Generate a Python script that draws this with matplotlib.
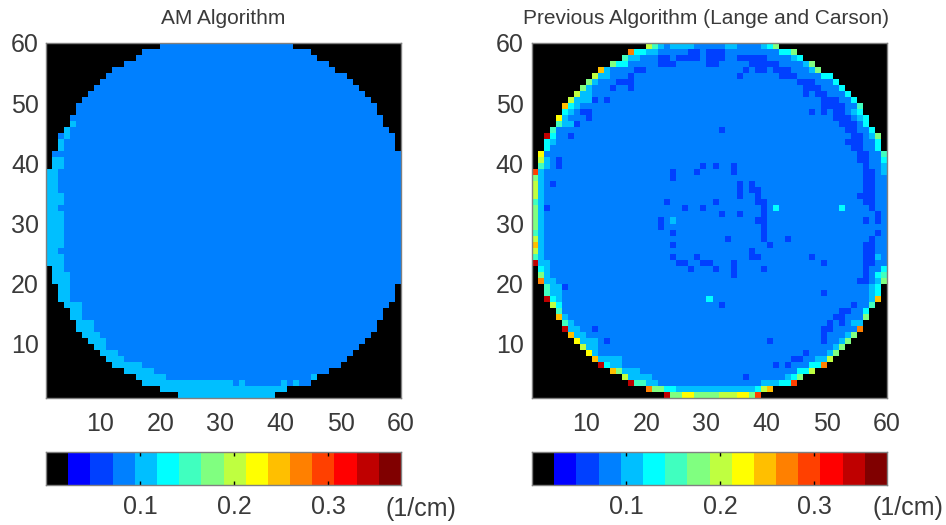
import numpy as np
from matplotlib import pyplot as plt
from matplotlib.colors import ListedColormap

plt.rcParams['font.family'] = ['Liberation Sans', 'DejaVu Sans']

W, H = 946, 525
TEXT = "#3a3a3a"
EDGE = "#808080"

# colour levels of the scale, black is outside the reconstruction
palette = ["#000000", "#0000ff", "#0040ff", "#0080ff", "#00bfff", "#00ffff", "#40ffbf", "#80ff80",
           "#bfff40", "#ffff00", "#ffbf00", "#ff8000", "#ff4000", "#ff0000", "#bf0000", "#800000"]
scale_max = 0.377
scale_ticks = [0.1, 0.2, 0.3]
image_ticks = [10, 20, 30, 40, 50, 60]
titles = ["AM Algorithm", "Previous Algorithm (Lange and Carson)"]

# first and one past last cell inside the circle, row 0 is the top row
row_start = [19, 16, 15, 13, 11, 10, 9, 8, 7, 6, 5, 5, 4, 4, 3, 2, 2, 2, 1, 1, 1] + [0] * 16 + \
            [1, 1, 1, 2, 2, 2, 3, 4, 4, 5, 5, 6, 7, 8, 9, 10, 11, 13, 15, 16, 19, 22]
row_stop = [41, 44, 45, 47, 48, 50, 51, 52, 53, 54, 55, 55, 56, 56, 57, 58, 58, 58] + [59] * 22 + \
           [58, 58, 58, 57, 56, 56, 55, 55, 54, 53, 52, 51, 50, 49, 47, 45, 44, 40, 38]
body_level = 3

# AM image: light rim, (row, first, last)
am_rim = [(13, 4, 4), (14, 3, 3), (15, 3, 3), (16, 2, 2), (17, 2, 2), (19, 1, 2), (20, 1, 2),
          (21, 0, 1), (22, 0, 1), (23, 0, 1), (24, 0, 1), (25, 0, 2), (26, 0, 2), (27, 0, 1),
          (28, 0, 2), (29, 0, 2), (30, 0, 2), (31, 0, 2), (32, 0, 2), (33, 0, 2), (34, 0, 1),
          (35, 0, 2), (36, 0, 2), (37, 1, 2), (38, 1, 3), (39, 1, 3), (40, 2, 3), (41, 2, 3),
          (42, 2, 3), (43, 3, 5), (44, 4, 5), (45, 4, 5), (46, 5, 7), (47, 5, 7), (48, 6, 8),
          (49, 7, 9), (50, 8, 9), (51, 9, 11), (52, 10, 12), (53, 11, 15), (54, 13, 17),
          (55, 15, 19), (56, 16, 30), (56, 32, 32), (56, 39, 39), (56, 41, 41), (55, 44, 44),
          (57, 19, 39), (58, 22, 37)]
am_rim_level = 4

# previous algorithm: low cells by row
prev_low = {1: [26, 27, 29, 30, 31], 2: [21, 22, 24, 25, 26, 27, 29, 30, 31, 34, 35, 36, 37, 38],
            3: [21, 22, 23, 29, 30, 36, 37, 38, 39, 40], 4: [17, 18, 35, 37, 38, 40, 41, 42],
            5: [16, 34, 41, 42, 43], 6: [14, 15, 16, 44, 45, 46], 7: [13, 16, 45, 46, 47],
            8: [45, 47, 48], 9: [10, 12, 48, 49, 50], 10: [48, 49, 50, 51], 11: [8, 9, 46, 48, 50, 51],
            12: [9, 50, 51, 52], 13: [7, 51, 52, 53], 14: [31, 52, 53], 15: [6, 53, 54], 16: [52, 53, 54],
            17: [53, 54], 18: [54, 55], 19: [4, 54, 55], 20: [4, 28, 30, 33, 55], 21: [23, 27, 33, 55, 56],
            22: [23, 55, 56], 23: [3, 34, 36, 55, 56], 24: [34, 36, 37, 55, 56], 25: [34, 37, 54, 55, 56],
            26: [22, 30, 37, 38, 55, 56], 27: [2, 25, 28, 38, 56], 28: [31, 34, 38, 57],
            29: [21, 37, 38, 55, 57], 30: [21, 38], 31: [23, 38, 57], 32: [32, 38, 42, 56],
            33: [23, 39, 55, 56], 34: [36, 55, 56], 35: [23, 27, 36, 37, 46, 55, 56],
            36: [24, 25, 28, 29, 33, 48, 55, 56], 37: [26, 30, 33, 38, 55], 38: [33, 55], 39: [54, 55],
            40: [5], 41: [48], 43: [31, 53], 44: [51, 52], 45: [50, 51], 46: [49, 51], 47: [10, 48, 49],
            48: [48], 49: [12, 39, 48], 51: [45], 52: [43, 44], 53: [40, 42], 55: [35]}
prev_low_level = 2

# previous algorithm: rim and stray cells, (row, first, last, level)
prev_rim = [(0, 19, 19, 8), (0, 20, 20, 6), (0, 21, 21, 4), (0, 23, 26, 4), (0, 32, 33, 4), (0, 38, 38, 4),
            (0, 39, 39, 5), (0, 40, 40, 7), (1, 16, 16, 11), (1, 17, 18, 5), (1, 19, 20, 4), (1, 41, 42, 5),
            (1, 43, 43, 7), (2, 15, 15, 6), (2, 16, 17, 4), (2, 43, 43, 4), (2, 44, 44, 5), (3, 13, 13, 7),
            (3, 14, 15, 5), (3, 45, 45, 4), (3, 46, 46, 7), (4, 11, 11, 10), (4, 12, 12, 4), (4, 46, 46, 4),
            (4, 47, 47, 7), (5, 10, 10, 8), (5, 11, 12, 4), (5, 48, 49, 5), (6, 9, 9, 7), (6, 10, 10, 4),
            (6, 50, 50, 5), (7, 8, 8, 7), (7, 9, 9, 4), (7, 51, 51, 5), (8, 7, 7, 8), (8, 8, 9, 4),
            (8, 52, 52, 5), (9, 6, 6, 8), (9, 7, 9, 4), (9, 53, 53, 5), (10, 5, 5, 10), (10, 6, 6, 5),
            (10, 7, 7, 4), (10, 54, 54, 6), (11, 5, 5, 5), (11, 6, 6, 4), (11, 53, 53, 4), (11, 54, 54, 5),
            (12, 4, 4, 9), (12, 5, 5, 4), (12, 54, 54, 4), (12, 55, 55, 5), (13, 4, 4, 6), (13, 5, 6, 4),
            (13, 55, 55, 5), (14, 3, 3, 6), (14, 56, 56, 5), (15, 2, 2, 14), (15, 3, 3, 5), (15, 56, 56, 4),
            (15, 57, 57, 7), (16, 2, 2, 5), (16, 3, 3, 4), (16, 57, 57, 5), (17, 2, 2, 5), (17, 57, 57, 5),
            (18, 1, 1, 9), (18, 58, 58, 6), (19, 1, 1, 8), (19, 2, 2, 4), (19, 58, 58, 5), (20, 1, 1, 6),
            (20, 2, 2, 4), (20, 58, 58, 4), (21, 58, 58, 4), (35, 57, 57, 4), (36, 1, 2, 4), (37, 1, 1, 5),
            (37, 2, 2, 4), (37, 58, 58, 5), (38, 1, 1, 7), (38, 2, 2, 4), (38, 57, 57, 5), (38, 58, 58, 6),
            (39, 1, 1, 11), (39, 2, 3, 4), (39, 57, 57, 4), (39, 58, 58, 7), (40, 2, 2, 6), (40, 3, 4, 4),
            (40, 56, 56, 4), (40, 57, 57, 5), (41, 2, 2, 6), (41, 3, 4, 4), (41, 56, 56, 4), (41, 57, 57, 5),
            (42, 2, 2, 14), (42, 3, 3, 5), (42, 4, 4, 4), (42, 56, 56, 4), (42, 57, 57, 10), (43, 3, 3, 8),
            (43, 4, 4, 5), (43, 56, 56, 6), (44, 4, 4, 6), (44, 55, 55, 5), (45, 4, 4, 10), (45, 5, 5, 4),
            (45, 55, 55, 7), (46, 5, 5, 6), (46, 6, 6, 4), (46, 53, 54, 4), (47, 5, 5, 14), (47, 6, 7, 4),
            (47, 54, 54, 11), (48, 6, 6, 10), (48, 7, 8, 4), (48, 52, 52, 4), (48, 53, 53, 7), (49, 7, 7, 9),
            (49, 8, 10, 4), (49, 51, 51, 4), (49, 52, 52, 7), (50, 8, 8, 8), (50, 9, 10, 4), (50, 50, 50, 4),
            (50, 51, 51, 7), (51, 9, 9, 9), (51, 10, 10, 4), (51, 49, 49, 4), (51, 50, 50, 7), (52, 10, 10, 10),
            (52, 11, 14, 4), (52, 47, 48, 4), (52, 49, 49, 8), (53, 11, 11, 14), (53, 12, 12, 5), (53, 13, 14, 4),
            (53, 46, 47, 5), (53, 48, 48, 11), (54, 13, 13, 10), (54, 14, 14, 7), (54, 15, 17, 4), (54, 44, 45, 5),
            (54, 46, 46, 8), (55, 15, 15, 8), (55, 16, 19, 4), (55, 42, 42, 4), (55, 43, 43, 5), (55, 44, 44, 7),
            (56, 16, 16, 14), (56, 17, 18, 6), (56, 19, 20, 4), (56, 38, 40, 4), (56, 41, 42, 5), (56, 43, 43, 12),
            (57, 19, 19, 11), (57, 20, 21, 7), (57, 22, 23, 5), (57, 24, 36, 4), (57, 37, 37, 5), (57, 38, 38, 8),
            (57, 39, 39, 10), (58, 22, 22, 14), (58, 23, 24, 7), (58, 25, 26, 9), (58, 27, 30, 7), (58, 31, 33, 8),
            (58, 34, 35, 9), (58, 36, 36, 7), (58, 37, 37, 12), (29, 23, 23, 4), (27, 40, 40, 5), (27, 51, 51, 5),
            (42, 29, 29, 5)]
# left column from row 21 down, and the light column next to it
prev_col0 = [12, 7, 8, 8, 8, 6, 7, 7, 7, 7, 6, 8, 10, 8, 6, 14]
prev_col0_first_row = 21


def base_grid():
    grid = np.zeros((59, 59), dtype=int)
    for r in range(59):
        grid[r, row_start[r]:row_stop[r]] = body_level
    return grid


def am_grid():
    grid = base_grid()
    for r, a, b in am_rim:
        grid[r, a:b + 1] = am_rim_level
    return grid


def prev_grid():
    grid = base_grid()
    for r, cols in prev_low.items():
        grid[r, cols] = prev_low_level
    for r, a, b, lev in prev_rim:
        grid[r, a:b + 1] = lev
    for i, lev in enumerate(prev_col0):
        r = prev_col0_first_row + i
        grid[r, 0] = lev
        if i < len(prev_col0) - 1:
            grid[r, 1] = 4
    return grid


def axes_px(x0, y0, x1, y1):
    return [x0 / W, 1 - y1 / H, (x1 - x0) / W, (y1 - y0) / H]


cmap = ListedColormap(palette)
fig = plt.figure(figsize=(W / 100, H / 100), dpi=100)

panels = [(46, am_grid(), (385, 509), 40, 223.5), (532, prev_grid(), (872, 508), 525, 706)]
for i, (left, grid, unit_pos, label_right, title_x) in enumerate(panels):
    ax = fig.add_axes(axes_px(left, 43, left + 355, 398))
    edges = np.arange(1, 61)
    ax.pcolormesh(edges, edges[::-1], grid, cmap=cmap, vmin=-0.5, vmax=15.5)
    ax.set_xlim(1, 60)
    ax.set_ylim(1, 60)
    ax.set_xticks(image_ticks)
    ax.set_yticks(image_ticks)
    ax.tick_params(length=0, labelsize=18, labelcolor=TEXT)
    ax.tick_params(axis="y", pad=left - label_right - 1)
    ax.tick_params(axis="x", pad=10)
    for s in ax.spines.values():
        s.set_color(EDGE)
        s.set_linewidth(1)
    fig.text(title_x / W, 1 - 18 / H, titles[i], fontsize=15, color=TEXT, ha="center", va="center")

    # scale bar under the image
    cax = fig.add_axes(axes_px(left, 452, left + 355, 485))
    bounds = np.linspace(0, scale_max, len(palette) + 1)
    cax.pcolormesh(bounds, [0, 1], np.arange(len(palette)).reshape(1, -1), cmap=cmap, vmin=-0.5, vmax=15.5)
    cax.set_xlim(0, scale_max)
    cax.set_ylim(0, 1)
    cax.set_yticks([])
    cax.set_xticks(scale_ticks)
    cax.set_xticklabels([f"{t:.1f}" for t in scale_ticks])
    cax.tick_params(axis="x", direction="in", length=3, width=1, color="black", top=True, labelsize=18, labelcolor=TEXT, pad=7)
    for s in cax.spines.values():
        s.set_color(EDGE)
        s.set_linewidth(1)
    fig.text(unit_pos[0] / W, 1 - unit_pos[1] / H, "(1/cm)", fontsize=18, color=TEXT, ha="left", va="center")

fig.savefig("out.png", dpi=100)
